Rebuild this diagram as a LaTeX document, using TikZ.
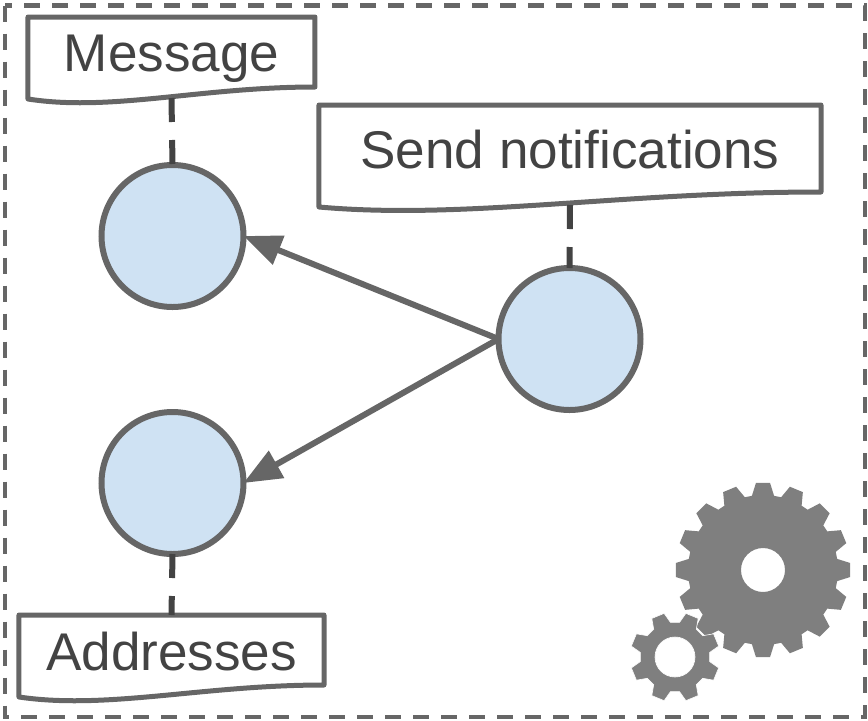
\documentclass[tikz,border=0pt]{standalone}
\usepackage{fontspec}
\setmainfont{Liberation Sans}
\usepackage{tikz}
\usetikzlibrary{arrows.meta,calc}
\definecolor{linegray}{HTML}{666666}
\definecolor{textgray}{HTML}{434343}
\definecolor{gearblue}{HTML}{CFE2F3}
\definecolor{geargray}{HTML}{7F7F7F}
% outline of a note: node, rise at the right end, drop at the left end
\newcommand{\noteoutline}[3]{
    \draw[noteline] (#1.north west) -- (#1.north east) -- ($(#1.south east)+(0,#2)$)
        .. controls ($(#1.south east)!0.4!(#1.south west)+(0,#2)$) and ($(#1.south east)!0.71!(#1.south west)+(0,-#3-0.13)$) .. ($(#1.south west)+(0,-#3)$) -- cycle;
}
\begin{document}
\begin{tikzpicture}
        \tikzset{state/.style = {shape=circle,draw=linegray,fill=gearblue,line width=0.06cm,minimum size=1.42cm,inner sep=0,outer sep=0}}
        \tikzset{note/.style = {inner sep=0,outer sep=0,text=textgray,font=\fontsize{15.1}{18}\selectfont,text height=0.38cm,text depth=0.11cm}}
        \tikzset{noteline/.style = {draw=linegray,line width=0.05cm,line join=round}}
        \tikzset{edge/.style = {-{Triangle[length=0.38cm,width=0.3cm]},draw=linegray,fill=linegray,line width=0.06cm}}
        \tikzset{link/.style = {draw=textgray,line width=0.06cm,dash pattern=on 0.24cm off 0.18cm}}
        \useasboundingbox (0,0) rectangle (8.68,-7.21);
        % frame
        \draw[linegray,line width=0.045cm,dash pattern=on 0.16cm off 0.12cm] (0.05,-0.055) rectangle (8.65,-7.17);
        % notes
        \node[note,minimum width=2.87cm,minimum height=0.81cm] (message) at (1.715,-0.575) {Message};
        \node[note,minimum width=5.02cm,minimum height=1cm] (send) at (5.70,-1.55) {Send notifications};
        \node[note,minimum width=3.05cm,minimum height=0.8cm,text height=0.41cm] (addresses) at (1.715,-6.55) {Addresses};
        \noteoutline{message}{0.11}{0.01}
        \noteoutline{send}{0.13}{0.02}
        \noteoutline{addresses}{0.10}{0.02}
        % vertices
        \node[state] (first) at (1.725,-2.36) {};
        \node[state] (second) at (1.725,-4.83) {};
        \node[state] (third) at (5.695,-3.39) {};
        %edges
        \draw[link] (message.south) to (first.north);
        \draw[link] (send.south) to (third.north);
        \draw[link] (second.south) to (addresses.north);
        \draw[edge] (third.west) to (first.east);
        \draw[edge] (third.west) to (second.east);
        % gears
        \fill[geargray,even odd rule] (7.63,-5.70) ++(-8.5:0.75)
            \foreach \t in {0,...,15} {
                -- ($(7.63,-5.70)+({\t*22.5-8.5}:0.75)$) -- ($(7.63,-5.70)+({\t*22.5-4.6}:0.875)$) -- ($(7.63,-5.70)+({\t*22.5+4.6}:0.875)$) -- ($(7.63,-5.70)+({\t*22.5+8.5}:0.75)$)
            } -- cycle (7.63,-5.70) circle (0.22);
        \fill[geargray,draw=white,line width=0.006cm,even odd rule] (6.75,-6.57) ++(7.5:0.35)
            \foreach \t in {0,...,7} {
                -- ($(6.75,-6.57)+({\t*45+7.5}:0.35)$) -- ($(6.75,-6.57)+({\t*45+14}:0.45)$) -- ($(6.75,-6.57)+({\t*45+31}:0.45)$) -- ($(6.75,-6.57)+({\t*45+37.5}:0.35)$)
            } -- cycle (6.75,-6.57) circle (0.20);
    \end{tikzpicture}
\end{document}
